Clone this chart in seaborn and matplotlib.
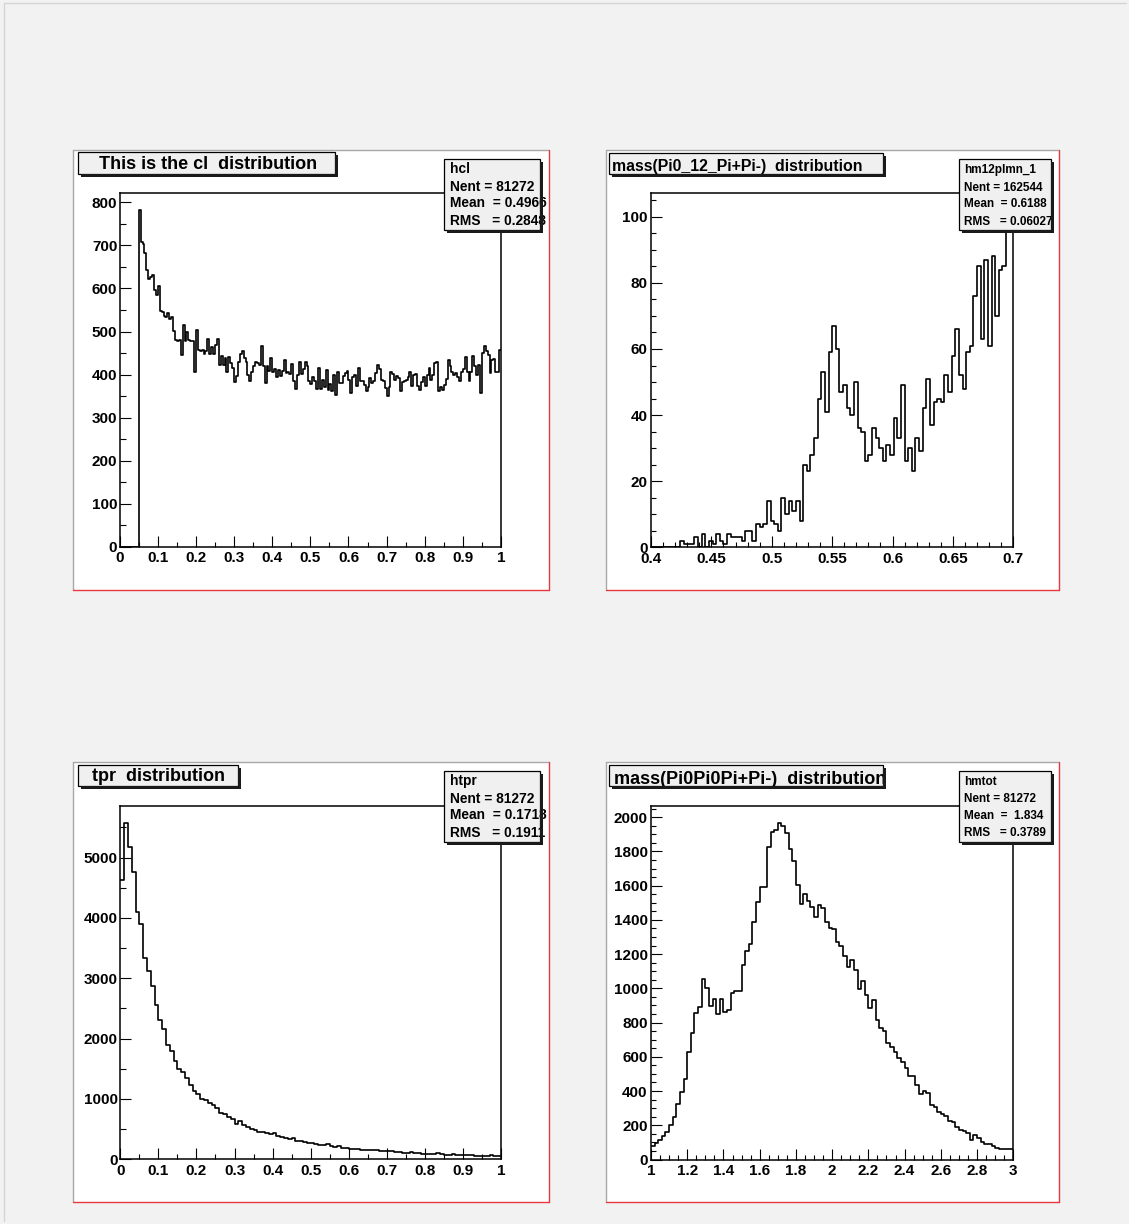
import numpy as np
import pandas as pd
import matplotlib
matplotlib.use("Agg")
import matplotlib.pyplot as plt
import seaborn as sns
from matplotlib.patches import Rectangle
from matplotlib.lines import Line2D
from matplotlib.ticker import MultipleLocator, FuncFormatter

# ---------------- data (bin contents) ----------------
cl_range = (0.0, 1.0)
cl_counts = [0] * 10 + [
    782, 709, 703, 682, 643, 623, 626, 632, 597, 585,
    605, 548, 545, 537, 533, 543, 530, 533, 502, 481,
    477, 481, 446, 516, 477, 500, 481, 477, 478, 407,
    504, 458, 455, 458, 447, 454, 483, 447, 465, 447,
    468, 483, 423, 444, 423, 438, 407, 440, 427, 415,
    382, 396, 430, 447, 454, 438,
    429, 399, 386, 405, 419, 430, 426, 423, 467, 420, 380, 419, 409, 438,
    407, 413, 395, 411, 397, 409, 433, 403, 405, 402, 424, 386, 366, 399,
    428, 402, 413, 429, 419, 386, 378, 395, 384, 366, 415, 366, 388, 372,
    411, 364, 378, 361, 399, 353, 407, 380, 380, 397, 403, 409, 388, 357,
    395, 399, 374, 415, 384, 386, 376, 361,
    370, 392, 380,
    384, 403, 423, 413, 388, 384, 368, 351, 372, 407,
    402, 388, 397, 392, 361, 382, 385, 388, 395, 405,
    374, 399, 402, 374, 363, 382, 395, 374, 399, 415,
    388, 399, 426, 428, 361, 371, 364, 376, 389, 434,
    419, 405, 399, 403, 395, 384, 405, 413, 440, 407,
    384, 407, 442, 420, 399, 423, 357, 451, 467, 455,
    446, 403, 433, 436, 407, 407, 458]

m12_range = (0.4, 0.7)
m12_counts = [0, 0, 0, 0, 0, 0, 0, 0,
    2, 1, 1, 1, 3, 0, 4, 0, 2, 1, 4, 2, 1, 4, 3, 3, 3, 2, 5, 5, 2, 7,
    6, 7, 14, 8, 7, 5, 15, 10, 14, 11, 14, 8,
    25, 23, 28, 33, 45, 53, 41, 59, 67, 60, 47, 49, 42, 40, 50, 36, 35, 26,
    28, 36, 33, 30, 26, 31, 28, 39, 33, 49, 26, 30, 23, 33, 29, 42, 51, 37,
    44, 45, 44, 52, 47, 58, 66, 52, 48, 59, 61, 76, 85, 63, 87, 61, 88, 70,
    84, 85, 102, 97]

tpr_range = (0.0, 1.0)
tpr_counts = [
    4630, 5575, 5182, 4757, 4104, 3895, 3342, 3121, 2878, 2558,
    2315, 2166, 1890, 1790, 1630, 1503, 1448, 1348, 1238, 1127,
    1088, 1005, 978, 939, 906, 851, 773, 757, 702, 674,
    591, 630, 564, 536, 508, 481, 453, 453, 436, 425,
    442, 387, 370, 359, 331, 354, 298, 304, 287, 276,
    276, 249, 232, 232, 260, 215, 204, 215, 193, 193,
    177, 177, 166, 160, 160, 149, 160, 149, 138, 133,
    138, 133, 122, 122, 110, 110, 122, 105, 105, 94,
    94, 88, 88, 110, 88, 77, 77, 83, 77, 66,
    72, 72, 66, 55, 61, 61, 50, 66, 55, 55]

mtot_range = (1.0, 3.0)
mtot_counts = [
    81, 94, 114, 138, 163, 202, 251, 323, 393, 472,
    628, 739, 856, 892, 1057, 1003, 899, 938, 850, 938,
    860, 872, 970, 983, 983, 1136, 1217, 1260, 1389, 1507,
    1593, 1595, 1823, 1911, 1927, 1967, 1947, 1908, 1816, 1746,
    1605, 1492, 1551, 1512, 1478, 1416, 1488, 1469, 1387, 1355,
    1348, 1268, 1248, 1191, 1123, 1166, 1107, 996, 1043, 961,
    883, 932, 814, 771, 750, 682, 658, 629, 594, 570,
    535, 488, 488, 434, 381, 398, 389, 316, 307, 277,
    264, 252, 223, 219, 189, 170, 164, 156, 115, 141,
    127, 102, 92, 88, 78, 68, 62, 62, 62, 59]

titles = ["This is the cl  distribution",
          "mass(Pi0_12_Pi+Pi-)  distribution",
          "tpr  distribution",
          "mass(Pi0Pi0Pi+Pi-)  distribution"]
stats = [["hcl", "Nent = 81272", "Mean  = 0.4966", "RMS   = 0.2848"],
         ["hm12plmn_1", "Nent = 162544", "Mean  = 0.6188", "RMS   = 0.06027"],
         ["htpr", "Nent = 81272", "Mean  = 0.1718", "RMS   = 0.1911"],
         ["hmtot", "Nent = 81272", "Mean  =  1.834", "RMS   = 0.3789"]]

assert len(cl_counts) == 200, len(cl_counts)
assert len(m12_counts) == 100, len(m12_counts)
assert len(tpr_counts) == 100, len(tpr_counts)
assert len(mtot_counts) == 100, len(mtot_counts)

# ---------------- style ----------------
sns.set_theme(style="ticks")
plt.rcParams["font.family"] = ["Liberation Sans", "DejaVu Sans"]
plt.rcParams["font.weight"] = "bold"
for k in ["text.color", "axes.edgecolor", "axes.labelcolor", "xtick.color", "ytick.color"]:
    plt.rcParams[k] = "black"

W, H = 1129, 1224
fig = plt.figure(figsize=(W / 100, H / 100), dpi=100, facecolor="#f2f2f2")


def frect(x0, y0, x1, y1, **kw):
    r = Rectangle((x0 / W, 1 - y1 / H), (x1 - x0) / W, (y1 - y0) / H,
                  transform=fig.transFigure, **kw)
    fig.add_artist(r)
    return r


def fline(x0, y0, x1, y1, **kw):
    fig.add_artist(Line2D([x0 / W, x1 / W], [1 - y0 / H, 1 - y1 / H],
                          transform=fig.transFigure, **kw))


def ftext(x, y, s, **kw):
    return fig.text(x / W, 1 - y / H, s, **kw)


# canvas border
fline(4, 3, 1126, 3, color="#d4d4d4", lw=1, zorder=-3)
fline(4, 3, 4, 1221, color="#d4d4d4", lw=1, zorder=-3)

pads = [(73, 150, 549, 590), (606, 150, 1059, 590),
        (73, 762, 549, 1202), (606, 762, 1059, 1202)]
frames = [(119.7, 193.3, 501, 546.7), (651, 193.3, 1013.3, 547.3),
          (120.3, 806, 501, 1159.3), (651, 806, 1013.3, 1159.5)]

for (x0, y0, x1, y1) in pads:
    frect(x0, y0, x1, y1, facecolor="white", edgecolor="none", zorder=-2)
    fline(x0, y0, x0, y1, color="#a8a8a8", lw=1, zorder=-1)
    fline(x0, y0, x1, y0, color="#a8a8a8", lw=1, zorder=-1)
    fline(x1, y0, x1, y1, color="#e8383d", lw=1, zorder=-1)
    fline(x0, y1, x1, y1, color="#e8383d", lw=1, zorder=-1)

hists = [(cl_counts, cl_range), (m12_counts, m12_range),
         (tpr_counts, tpr_range), (mtot_counts, mtot_range)]
loc = [((0.1, 0.05), (100, 50)), ((0.05, 0.01), (20, 5)),
       ((0.1, 0.05), (1000, 500)), ((0.2, 0.05), (200, 50))]
ylpad = [1.7, 2.4, 1.7, 2.4]

fmt = FuncFormatter(lambda v, p: f"{v:g}")

for i, ((counts, (lo, hi)), (x0, y0, x1, y1)) in enumerate(zip(hists, frames)):
    ax = fig.add_axes([x0 / W, 1 - y1 / H, (x1 - x0) / W, (y1 - y0) / H])
    ax.set_facecolor("white")
    counts = np.asarray(counts, dtype=float)
    nb = len(counts)
    edges = np.linspace(lo, hi, nb + 1)
    df = pd.DataFrame({"x": 0.5 * (edges[:-1] + edges[1:]), "n": counts})
    sns.histplot(data=df, x="x", weights="n", bins=nb, binrange=(lo, hi),
                 element="step", fill=False, color="black", linewidth=1.2, ax=ax)
    ax.set_xlabel("")
    ax.set_ylabel("")
    ax.set_xlim(lo, hi)
    ax.set_ylim(0, 1.05 * counts.max())
    (xm, xn), (ym, yn) = loc[i]
    ax.xaxis.set_major_locator(MultipleLocator(xm))
    ax.xaxis.set_minor_locator(MultipleLocator(xn))
    ax.yaxis.set_major_locator(MultipleLocator(ym))
    ax.yaxis.set_minor_locator(MultipleLocator(yn))
    ax.xaxis.set_major_formatter(fmt)
    ax.yaxis.set_major_formatter(fmt)
    fw, fh = (x1 - x0), (y1 - y0)
    ax.tick_params(axis="x", which="major", direction="in", length=0.03 * fh / 1.389,
                   width=0.8, labelsize=11, pad=3.4)
    ax.tick_params(axis="x", which="minor", direction="in", length=0.015 * fh / 1.389,
                   width=0.8)
    ax.tick_params(axis="y", which="major", direction="in", length=0.03 * fw / 1.389,
                   width=0.8, labelsize=11, pad=ylpad[i])
    ax.tick_params(axis="y", which="minor", direction="in", length=0.015 * fw / 1.389,
                   width=0.8)
    for lbl in ax.get_xticklabels() + ax.get_yticklabels():
        lbl.set_fontweight("bold")
    for s in ax.spines.values():
        s.set_visible(True)
        s.set_linewidth(1.1)
        s.set_color("black")


def root_box(x0, y0, x1, y1, z=5, sh=3):
    box = frect(x0, y0, x1, y1, facecolor="#f0f0f0", edgecolor="black", lw=0.9, zorder=z)
    frect(x1, y0 + sh, x1 + sh, y1 + sh, facecolor="#1a1a1a", edgecolor="none", zorder=z + 2)
    frect(x0 + sh, y1, x1 + sh, y1 + sh, facecolor="#1a1a1a", edgecolor="none", zorder=z + 2)
    return box


# title boxes
tb = [(78, 151.7, 334.7, 174), (609.3, 152.7, 882.7, 174),
      (78, 764.7, 238, 786), (609.3, 764.7, 882.7, 786)]
b = root_box(*tb[0])
ftext(208, 169.3, titles[0], fontsize=13, fontweight="bold", ha="center", va="baseline", zorder=6)
b = root_box(*tb[1])
ftext(612.5, 170.5, titles[1], fontsize=11.4, fontweight="bold", ha="left", va="baseline", zorder=6)
b = root_box(*tb[2])
ftext(159, 781.3, titles[2], fontsize=13, fontweight="bold", ha="center", va="baseline", zorder=6)
b = root_box(*tb[3])
t = ftext(614.3, 783.5, titles[3], fontsize=13, fontweight="bold", ha="left", va="baseline", zorder=6)
t.set_clip_path(b)

# stats boxes
sb = [(443.7, 159, 539.7, 230), (958.7, 159, 1051, 230),
      (443.7, 771.3, 539.7, 842), (958.7, 771.3, 1051, 842)]
stx = [449.7, 964.3, 449.7, 964.3]
sty = [[172.7, 190.7, 207.3, 225], [172.7, 190.7, 206.7, 225],
       [784.7, 802.7, 819.3, 837], [784.7, 802, 818.7, 836]]
sfs = [9.9, 8.5, 9.9, 8.5]
for i in range(4):
    root_box(*sb[i], z=8)
    for line, yy in zip(stats[i], sty[i]):
        ftext(stx[i], yy, line, fontsize=sfs[i], fontweight="bold", ha="left",
              va="baseline", zorder=9)

fig.savefig("out.png", dpi=100, facecolor=fig.get_facecolor())
